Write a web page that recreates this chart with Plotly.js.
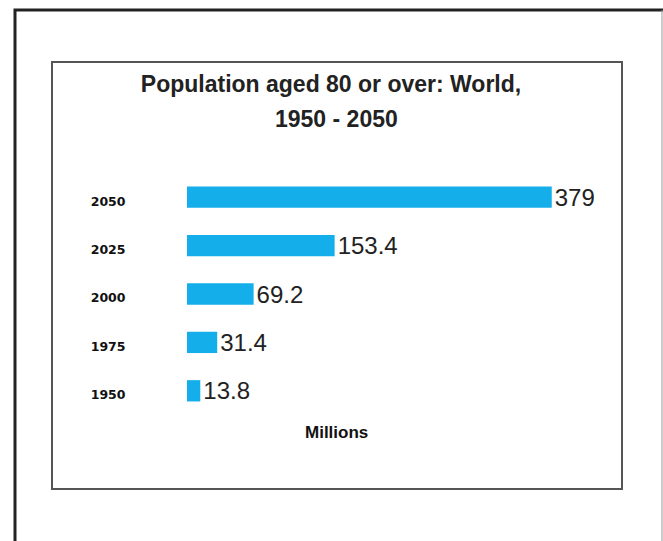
<!DOCTYPE html>
<html>
<head>
<meta charset="utf-8">
<script src="https://cdn.plot.ly/plotly-3.0.1.min.js"></script>
<style>html,body{margin:0;padding:0;background:#fff;}#chart{width:663px;height:541px;}</style>
</head>
<body>
<div id="chart"></div>
<script>
const years = ['1950', '1975', '2000', '2025', '2050'];
const populationMillions = [13.8, 31.4, 69.2, 153.4, 379];
const valueLabels = ['13.8', '31.4', '69.2', '153.4', '379'];
const titleLine1 = 'Population aged 80 or over: World,';
const titleLine2 = '1950 - 2050';
const unitLabel = 'Millions';

const W = 663, H = 541;
const px = x => x / W;
const py = y => 1 - y / H;

const trace = {
  type: 'bar',
  orientation: 'h',
  y: years,
  x: populationMillions,
  text: valueLabels,
  textposition: 'outside',
  constraintext: 'none',
  cliponaxis: false,
  textfont: {family: 'Liberation Sans, Arial, sans-serif', size: 24, color: '#222'},
  marker: {color: '#14aeea', line: {width: 0}},
  hoverinfo: 'none'
};

const layout = {
  width: W, height: H,
  margin: {l: 0, r: 0, t: 0, b: 0},
  paper_bgcolor: '#fff', plot_bgcolor: '#fff',
  showlegend: false,
  bargap: 0.56,
  title: {
    text: '<b>' + titleLine1 + '</b>',
    font: {family: 'Liberation Sans, Arial, sans-serif', size: 23, color: '#222'},
    xref: 'paper', yref: 'paper', x: px(331), xanchor: 'center', y: py(84), yanchor: 'middle'
  },
  xaxis: {
    domain: [px(187), px(622)],
    range: [0, 452],
    showgrid: false, zeroline: false, showline: false, showticklabels: false, ticks: ''
  },
  yaxis: {
    domain: [py(415), py(173)],
    type: 'category',
    categoryorder: 'array', categoryarray: years,
    range: [-0.5, 4.5],
    showgrid: false, zeroline: false, showline: false,
    ticks: 'outside', ticklen: 58, tickcolor: 'rgba(0,0,0,0)',
    ticklabelshift: 4,
    tickfont: {family: 'DejaVu Sans, sans-serif', size: 12.5, color: '#111', weight: 'bold'}
  },
  annotations: [
    {text: '<b>' + titleLine2 + '</b>', xref: 'paper', yref: 'paper', x: px(336), y: py(119),
     xanchor: 'center', yanchor: 'middle', showarrow: false,
     font: {family: 'Liberation Sans, Arial, sans-serif', size: 23, color: '#222'}},
    {text: '<b>' + unitLabel + '</b>', xref: 'paper', yref: 'paper', x: px(336), y: py(432),
     xanchor: 'center', yanchor: 'middle', showarrow: false,
     font: {family: 'Liberation Sans, Arial, sans-serif', size: 17, color: '#111'}}
  ],
  shapes: [
    {type: 'path', xref: 'paper', yref: 'paper',
     path: 'M ' + px(15) + ' ' + py(545) + ' L ' + px(15) + ' ' + py(10) + ' L ' + px(663) + ' ' + py(10),
     line: {color: '#222', width: 3}},
    {type: 'line', xref: 'paper', yref: 'paper',
     x0: px(662), x1: px(662), y0: py(10), y1: py(545),
     line: {color: '#999', width: 1}},
    {type: 'rect', xref: 'paper', yref: 'paper',
     x0: px(52), x1: px(622), y0: py(489), y1: py(62),
     line: {color: '#555', width: 2}}
  ]
};

Plotly.newPlot('chart', [trace], layout, {staticPlot: true, displayModeBar: false});
</script>
</body>
</html>
